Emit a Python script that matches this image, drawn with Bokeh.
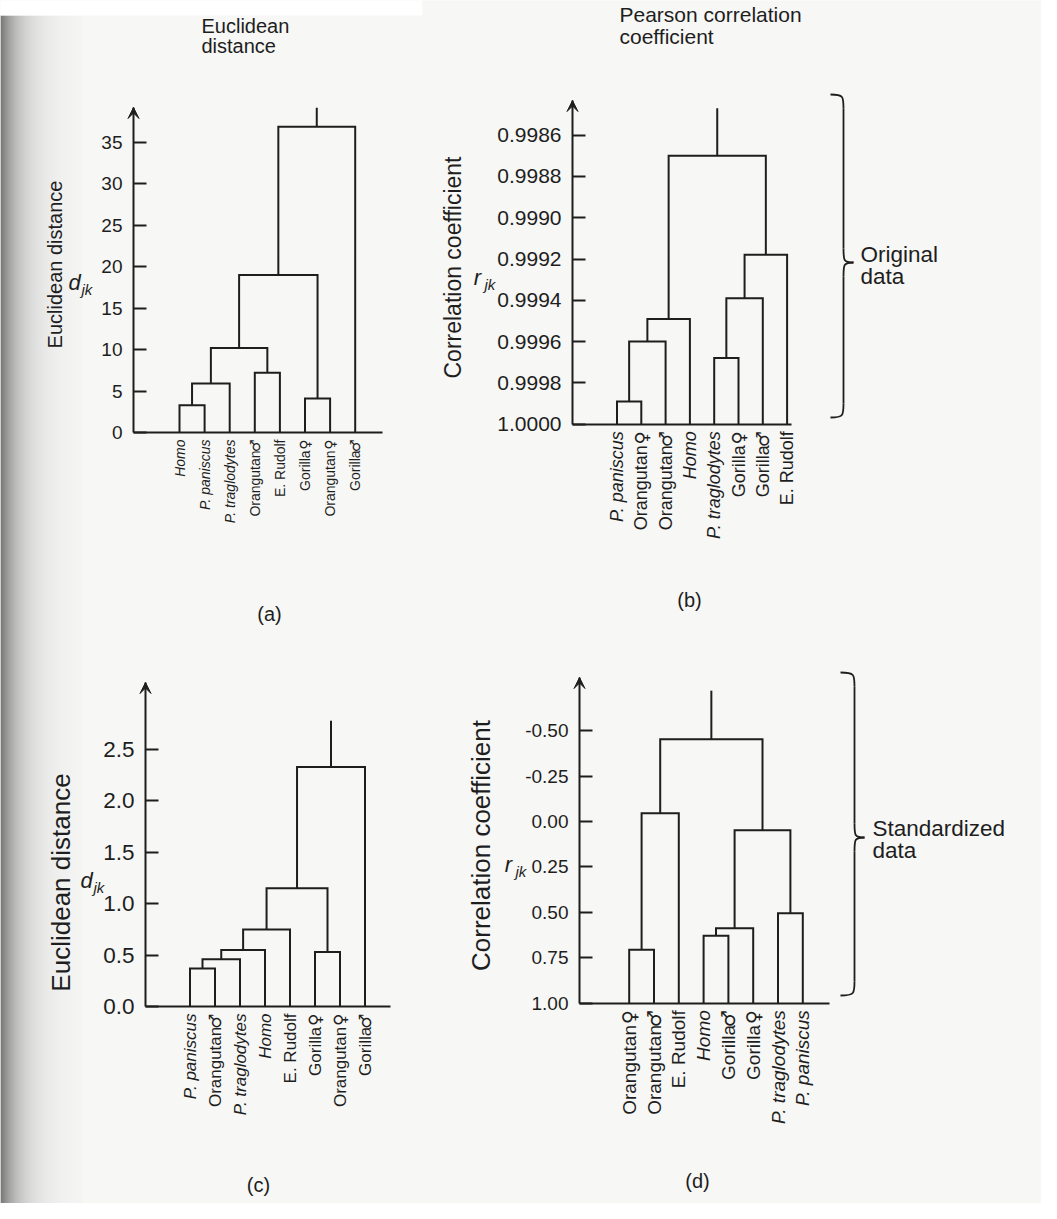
import numpy as np
from bokeh.plotting import figure
from bokeh.models import (Range1d, LinearAxis, FixedTicker, Arrow, VeeHead,
                          ColumnDataSource, NumeralTickFormatter)
from bokeh.core.properties import value, field
from bokeh.embed import file_html
from bokeh.resources import INLINE

# ---------------- data ----------------
ITALIC = ["Homo", "P. paniscus", "P. traglodytes"]

# (a) original data, Euclidean distance
a_leaves = ["Homo", "P. paniscus", "P. traglodytes", "Orangutan♂", "E. Rudolf",
            "Gorilla♀", "Orangutan♀", "Gorilla♂"]
a_left = [0, 8, 3, 9, 5, 11, 13]
a_right = [1, 2, 4, 10, 6, 12, 7]
a_height = [3.3, 5.9, 7.2, 10.2, 4.1, 19.0, 36.9]
a_stem = 39.2
a_ticks = [0, 5, 10, 15, 20, 25, 30, 35]

# (b) original data, Pearson correlation coefficient
b_leaves = ["P. paniscus", "Orangutan♀", "Orangutan♂", "Homo", "P. traglodytes",
            "Gorilla♀", "Gorilla♂", "E. Rudolf"]
b_left = [0, 8, 9, 4, 11, 12, 10]
b_right = [1, 2, 3, 5, 6, 7, 13]
b_height = [0.99989, 0.99960, 0.99949, 0.99968, 0.99939, 0.99918, 0.99870]
b_stem = 0.99847
b_ticks = [0.9986, 0.9988, 0.9990, 0.9992, 0.9994, 0.9996, 0.9998, 1.0000]

# (c) standardized data, Euclidean distance
c_leaves = ["P. paniscus", "Orangutan♂", "P. traglodytes", "Homo", "E. Rudolf",
            "Gorilla♀", "Orangutan♀", "Gorilla♂"]
c_left = [0, 8, 9, 10, 5, 11, 13]
c_right = [1, 2, 3, 4, 6, 12, 7]
c_height = [0.37, 0.46, 0.55, 0.75, 0.53, 1.15, 2.33]
c_stem = 2.78
c_ticks = [0.0, 0.5, 1.0, 1.5, 2.0, 2.5]

# (d) standardized data, correlation coefficient
d_leaves = ["Orangutan♀", "Orangutan♂", "E. Rudolf", "Homo", "Gorilla♂",
            "Gorilla♀", "P. traglodytes", "P. paniscus"]
d_left = [0, 8, 3, 10, 6, 11, 9]
d_right = [1, 2, 4, 5, 7, 12, 13]
d_height = [0.706, -0.046, 0.629, 0.587, 0.505, 0.048, -0.453]
d_stem = -0.72
d_ticks = [-0.50, -0.25, 0.00, 0.25, 0.50, 0.75, 1.00]

# ---------------- layout / style ----------------
PAGE_W, PAGE_H = 1041, 1203
OX, OY = 8, 8
INK = "#1e1e1e"
PAPER = "#f7f7f5"
FONT = "Liberation Sans"
SYM_FONT = "DejaVu Sans"
SYMBOLS = ("♂", "♀")

LAYOUT = {
    "a": dict(axis_x=141, leaf_x0=187, leaf_dx=25.1, base_y=440, ppu=8.286,
              base_val=0.0, flip=False, top_y=115, end_x=390, fmt="0",
              tick_font=19, leaf_font=14),
    "b": dict(axis_x=580, leaf_x0=624.5, leaf_dx=24.3, base_y=431.7, ppu=206500.0,
              base_val=1.0, flip=True, top_y=108, end_x=799, fmt="0.0000",
              tick_font=21, leaf_font=18),
    "c": dict(axis_x=153, leaf_x0=197.5, leaf_dx=25.0, base_y=1014, ppu=102.8,
              base_val=0.0, flip=False, top_y=690, end_x=398, fmt="0.0",
              tick_font=22.5, leaf_font=17),
    "d": dict(axis_x=587, leaf_x0=636.7, leaf_dx=24.8, base_y=1010.7, ppu=181.7,
              base_val=1.0, flip=True, top_y=685, end_x=837, fmt="0.00",
              tick_font=19, leaf_font=19),
}

p = figure(width=PAGE_W, height=PAGE_H,
           x_range=Range1d(OX, OX + PAGE_W), y_range=Range1d(OY + PAGE_H, OY),
           output_backend="svg", toolbar_location=None, min_border=0,
           x_axis_location=None, y_axis_location=None,
           background_fill_color=PAPER, border_fill_color=PAPER,
           outline_line_color=None)
p.grid.visible = False

# scanned-page shading along the left edge, white strip at the top
gx = np.arange(OX, 90, 1.0)
gv = (247 - 165 * np.exp(-(gx - OX) / 20.0)).astype(int)
p.quad(left=gx, right=gx + 1.05, top=23, bottom=OY + PAGE_H,
       fill_color=["#%02x%02x%02x" % (g, g, g) for g in gv], line_color=None)
p.quad(left=[OX], right=[430], top=[OY], bottom=[23], fill_color="#ffffff", line_color=None)


def build_panel(key, leaves, left, right, height, stem, ticks):
    L = LAYOUT[key]
    n = len(leaves)
    sgn = -1.0 if L["flip"] else 1.0

    def val(Y):
        return L["base_val"] + sgn * (L["base_y"] - Y) / L["ppu"]

    def idx(X):
        return (X - L["leaf_x0"]) / L["leaf_dx"]

    p.extra_x_ranges[key] = Range1d(idx(OX), idx(OX + PAGE_W))
    p.extra_y_ranges[key] = Range1d(val(OY + PAGE_H), val(OY))
    base = L["base_val"]

    pos = {i: (float(i), base) for i in range(n)}
    xs, ys = [], []
    for k, (l, r, h) in enumerate(zip(left, right, height)):
        xl, yl = pos[l]
        xr, yr = pos[r]
        xs.append([xl, xl, xr, xr])
        ys.append([yl, h, h, yr])
        pos[n + k] = ((xl + xr) / 2.0, h)
    rx, rh = pos[n + len(height) - 1]
    xs.append([rx, rx])
    ys.append([rh, stem])
    p.multi_line(xs=xs, ys=ys, x_range_name=key, y_range_name=key,
                 line_color=INK, line_width=2, line_join="miter")

    ax_x = idx(L["axis_x"])
    top = val(L["top_y"])
    yax = LinearAxis(x_range_name=key, y_range_name=key, fixed_location=ax_x,
                     bounds=(min(base, top), max(base, top)),
                     ticker=FixedTicker(ticks=ticks),
                     formatter=NumeralTickFormatter(format=L["fmt"]),
                     major_tick_in=13, major_tick_out=0,
                     minor_tick_in=0, minor_tick_out=0,
                     major_tick_line_width=2, major_tick_line_color=INK,
                     axis_line_width=2, axis_line_color=INK,
                     major_label_standoff=11,
                     major_label_text_font=FONT,
                     major_label_text_font_size="%spx" % L["tick_font"],
                     major_label_text_color=INK)
    p.add_layout(yax, "left")

    xax = LinearAxis(x_range_name=key, y_range_name=key, fixed_location=base,
                     bounds=(ax_x, idx(L["end_x"])),
                     ticker=FixedTicker(ticks=[]),
                     major_tick_in=0, major_tick_out=0,
                     minor_tick_in=0, minor_tick_out=0,
                     major_label_text_font_size="0px",
                     axis_line_width=2, axis_line_color=INK)
    p.add_layout(xax, "below")

    p.add_layout(Arrow(end=VeeHead(size=11, fill_color=INK, line_color=INK, line_width=1),
                       line_alpha=0, x_start=ax_x, x_end=ax_x,
                       y_start=val(L["top_y"] + 12), y_end=top,
                       x_range_name=key, y_range_name=key))

    # leaf labels: the sex symbol sits at the end of the label next to the baseline
    fs = L["leaf_font"]
    names, syms, offs = [], [], []
    for s in leaves:
        if s.endswith(SYMBOLS):
            names.append(s[:-1])
            syms.append(s[-1])
            offs.append(7 + 0.78 * fs)
        else:
            names.append(s)
            syms.append("")
            offs.append(7)
    src = ColumnDataSource(dict(
        x=list(range(n)), y=[base] * n, text=names, sym=syms, off=offs,
        style=["italic" if s in ITALIC else "normal" for s in leaves]))
    p.text(x="x", y="y", text="text", source=src, x_range_name=key, y_range_name=key,
           angle=np.pi / 2, text_align="right", text_baseline="middle", y_offset="off",
           text_font=value(FONT), text_font_style=field("style"),
           text_font_size="%spx" % fs, text_color=INK)
    p.text(x="x", y="y", text="sym", source=src, x_range_name=key, y_range_name=key,
           angle=np.pi / 2, text_align="right", text_baseline="middle", y_offset=7,
           text_font=value(SYM_FONT), text_font_size="%spx" % fs, text_color=INK)


build_panel("a", a_leaves, a_left, a_right, a_height, a_stem, a_ticks)
build_panel("b", b_leaves, b_left, b_right, b_height, b_stem, b_ticks)
build_panel("c", c_leaves, c_left, c_right, c_height, c_stem, c_ticks)
build_panel("d", d_leaves, d_left, d_right, d_height, d_stem, d_ticks)


def txt(x, y, s, size="20px", align="left", angle=0.0, style="normal", baseline="middle"):
    p.text(x=[x], y=[y], text=[s], angle=angle, text_align=align, text_baseline=baseline,
           text_font=value(FONT), text_font_size=size, text_font_style=style,
           text_color=INK)


# titles
txt(209, 33, "Euclidean")
txt(209, 53, "distance")
txt(627, 22, "Pearson correlation", size="21px")
txt(627, 44, "coefficient", size="21px")

# vertical axis titles and symbols
txt(62, 272, "Euclidean distance", size="20px", align="center", angle=np.pi / 2)
txt(460, 275, "Correlation coefficient", size="23px", align="center", angle=np.pi / 2)
txt(68, 890, "Euclidean distance", size="26px", align="center", angle=np.pi / 2)
txt(488, 853, "Correlation coefficient", size="26px", align="center", angle=np.pi / 2)

for (xd, yd, sym) in [(82, 290, "d"), (485, 285, "r"), (94, 888, "d"), (516, 872, "r")]:
    txt(xd, yd, sym, size="22px", align="center", style="italic")
    txt(xd + 7, yd + 7, "jk", size="15px", align="left", style="italic")

# panel letters
txt(277, 621, "(a)", align="center")
txt(697, 607, "(b)", align="center")
txt(266, 1192, "(c)", align="center")
txt(705, 1188, "(d)", align="center")


# braces
def brace(xe, xs, xt, y1, y2, ym, r=14):
    p.bezier(x0=[xe, xs, xt, xs], y0=[y1, ym - r, ym, y2 - r],
             x1=[xs, xt, xs, xe], y1=[y1 + r, ym, ym + r, y2],
             cx0=[xs, xs, xs, xs], cy0=[y1, ym - 2, ym, y2 - 2],
             cx1=[xs, xs, xs, xs], cy1=[y1 + 2, ym, ym + 2, y2],
             line_color=INK, line_width=1.8)
    p.segment(x0=[xs, xs], y0=[y1 + r, ym + r], x1=[xs, xs], y1=[ym - r, y2 - r],
              line_color=INK, line_width=1.8)


brace(838, 851, 861, 102, 425, 270)
brace(848, 862, 872, 680, 1003, 845)
txt(868, 262, "Original", size="22.5px")
txt(868, 284, "data", size="22.5px")
txt(880, 836, "Standardized", size="22.5px")
txt(880, 858, "data", size="22.5px")

open("out.html", "w").write(file_html(p, INLINE))
